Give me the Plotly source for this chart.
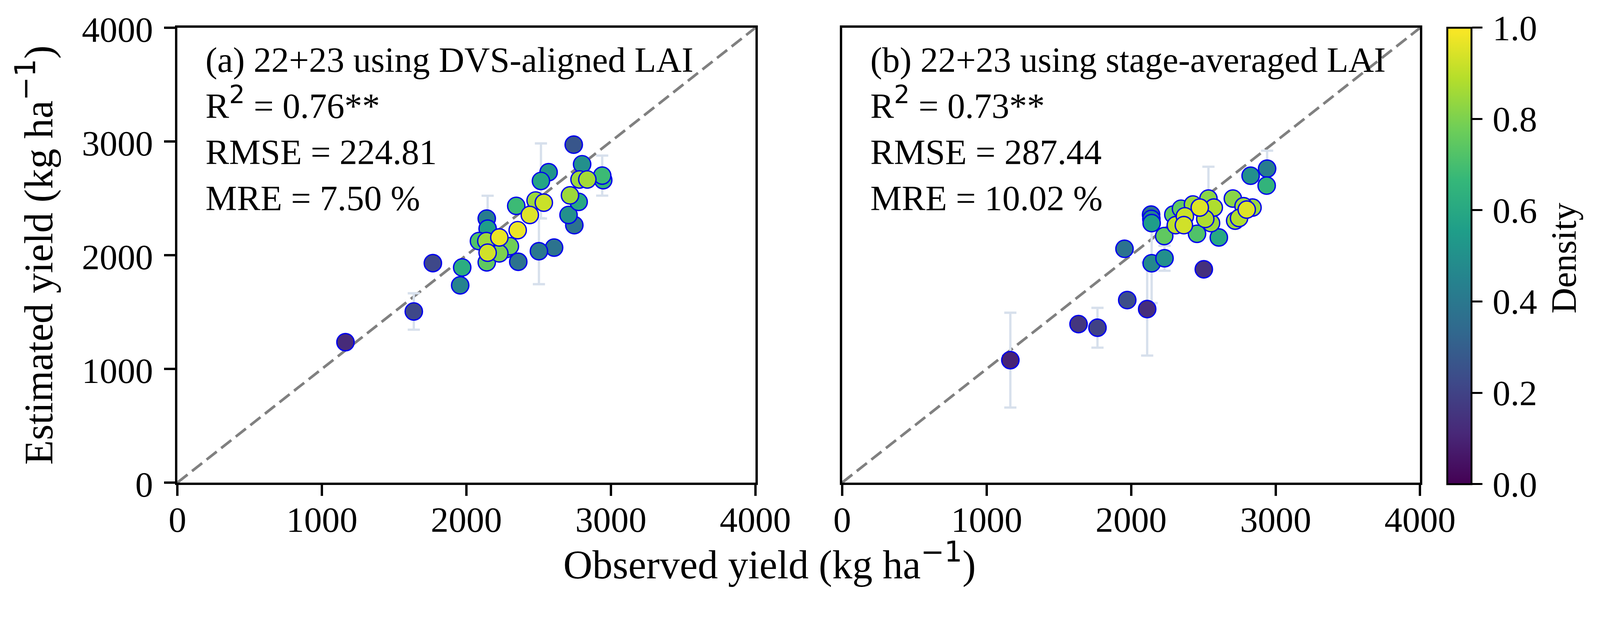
import plotly.graph_objects as go

# ---------------- data ----------------
# (a) 22+23 using DVS-aligned LAI
obs_a = [1163, 1636, 1768, 1971, 1957, 2141, 2147, 2087, 2138, 2147, 2141, 2228, 2228, 2301,
         2275, 2359, 2355, 2345, 2439, 2479, 2536, 2516, 2569, 2502, 2607, 2743, 2801, 2783,
         2837, 2940, 2947, 2717, 2777, 2707, 2747]
est_a = [1235, 1505, 1930, 1892, 1735, 2322, 2233, 2124, 2124, 2022, 1937, 2156, 2016, 2079,
         2054, 1942, 2220, 2434, 2354, 2481, 2462, 2653, 2730, 2035, 2067, 2972, 2800, 2666,
         2666, 2700, 2660, 2526, 2469, 2354, 2264]
den_a = [0.12, 0.22, 0.22, 0.62, 0.45, 0.42, 0.55, 0.72, 0.85, 0.93, 0.75, 0.97, 0.80, 0.78,
         0.76, 0.38, 0.97, 0.68, 0.95, 0.85, 0.92, 0.58, 0.52, 0.40, 0.38, 0.27, 0.50, 0.85,
         0.86, 0.68, 0.65, 0.85, 0.60, 0.50, 0.38]
err_a = [0, 160, 0, 0, 0, 0, 290, 0, 0, 0, 0, 0, 0, 0,
         0, 0, 0, 0, 0, 0, 0, 330, 0, 290, 0, 0, 0, 0,
         0, 176, 0, 0, 0, 0, 0]

# (b) 22+23 using stage-averaged LAI
obs_b = [1164, 1636, 1767, 1973, 2111, 1954, 2142, 2231, 2503, 2138, 2140, 2142, 2229, 2292,
         2309, 2365, 2372, 2345, 2428, 2475, 2535, 2572, 2513, 2553, 2456, 2607, 2704, 2720,
         2747, 2800, 2840, 2778, 2827, 2941, 2938]
est_b = [1077, 1394, 1362, 1605, 1526, 2056, 1929, 1973, 1876, 2357, 2319, 2282, 2168, 2357,
         2264, 2264, 2342, 2409, 2446, 2419, 2498, 2419, 2319, 2282, 2188, 2156, 2498, 2304,
         2327, 2401, 2419, 2431, 2699, 2761, 2612]
den_b = [0.10, 0.16, 0.20, 0.24, 0.13, 0.38, 0.47, 0.50, 0.14, 0.38, 0.45, 0.55, 0.75, 0.75,
         0.90, 0.93, 0.92, 0.75, 0.85, 0.95, 0.82, 0.88, 0.88, 0.85, 0.72, 0.60, 0.82, 0.85,
         0.88, 0.95, 0.85, 0.85, 0.50, 0.42, 0.65]
err_b = [417, 0, 175, 0, 409, 0, 350, 110, 0, 0, 0, 0, 0, 0,
         0, 0, 0, 0, 0, 0, 280, 0, 0, 0, 0, 0, 0, 0,
         0, 0, 0, 0, 0, 158, 0]

# ---------------- sizes / geometry ----------------
# target positions are photo pixels; the page shows the figure slightly
# enlarged (K) and offset by the body margin (M), so convert to css px.
K = 1.026
M = 8
W, H = 4060, 1520
FONT = "Liberation Serif"


def s(v):
    return v / K


def cx(p):
    return (p / K - M) / W


def cy(p):
    return 1 - (p / K - M) / H


TICK_SIZE = s(93.5)
ANN_SIZE = s(93)
TITLE_SIZE = s(106)
LW = s(6)

sup_ann = "<sup><span style=\"font-family:DejaVu Sans;font-size:%.1fpx\">2</span></sup>" % (0.7 * ANN_SIZE)
sup_title = "<sup><span style=\"font-family:DejaVu Sans;font-size:%.1fpx\">−1</span></sup>" % (0.7 * TITLE_SIZE)

panel_text = [
    "(a) 22+23 using DVS-aligned LAI<br>R" + sup_ann + " = 0.76**<br>RMSE = 224.81<br>MRE = 7.50 %",
    "(b) 22+23 using stage-averaged LAI<br>R" + sup_ann + " = 0.73**<br>RMSE = 287.44<br>MRE = 10.02 %",
]
axis_ticks = [0, 1000, 2000, 3000, 4000]
cbar_ticks = [0.0, 0.2, 0.4, 0.6, 0.8, 1.0]
x_title = "Observed yield (kg ha" + sup_title + ")"
y_title = "Estimated yield (kg ha" + sup_title + ")"
cbar_title = "Density"

dom_y = [cy(1270 - 3), cy(70 + 3)]
dom_xa = [cx(463 + 3), cx(1987 - 3)]
dom_xb = [cx(2209 + 3), cx(3733 - 3)]

fig = go.Figure()

panels = [
    (obs_a, est_a, den_a, err_a, "x", "y", True),
    (obs_b, est_b, den_b, err_b, "x2", "y2", False),
]

for obs, est, den, err, xa, ya, show_cb in panels:
    # 1:1 line
    fig.add_trace(go.Scatter(x=[0, 4000], y=[0, 4000], mode="lines",
                             line=dict(color="#808080", width=s(7), dash="33px,14.5px"),
                             xaxis=xa, yaxis=ya, showlegend=False, hoverinfo="skip"))
    # error bars (only where a spread exists)
    ex = [o for o, e in zip(obs, err) if e > 0]
    ey = [v for v, e in zip(est, err) if e > 0]
    ev = [e for e in err if e > 0]
    fig.add_trace(go.Scatter(x=ex, y=ey, mode="markers",
                             marker=dict(size=1, color="rgba(0,0,0,0)"),
                             error_y=dict(type="data", array=ev, visible=True,
                                          color="#d7e0ec", thickness=s(6), width=s(16)),
                             xaxis=xa, yaxis=ya, showlegend=False, hoverinfo="skip"))
    # density-coloured points, densest drawn last
    order = sorted(range(len(den)), key=lambda i: den[i])
    marker = dict(size=s(45.5), color=[den[i] for i in order], colorscale="Viridis",
                  cmin=0, cmax=1, line=dict(color="#0000ee", width=s(3.5)),
                  showscale=show_cb)
    if show_cb:
        marker["colorbar"] = dict(
            x=cx(3801), xanchor="left", xpad=0,
            y=cy(1271), yanchor="bottom", ypad=0,
            len=s(1198) / H, lenmode="fraction",
            thickness=s(64), outlinewidth=s(5), outlinecolor="black",
            ticks="outside", ticklen=s(27), tickwidth=s(5), tickcolor="black",
            tickvals=cbar_ticks, ticktext=["\u200a" + f"{v:.1f}" for v in cbar_ticks],
            tickfont=dict(family=FONT, size=TICK_SIZE, color="black"),
        )
    fig.add_trace(go.Scatter(x=[obs[i] for i in order], y=[est[i] for i in order],
                             mode="markers", marker=marker,
                             xaxis=xa, yaxis=ya, showlegend=False))

axis_common = dict(range=[0, 4000], tickvals=axis_ticks, ticktext=[str(t) for t in axis_ticks],
                   ticks="outside", ticklen=s(29), tickwidth=LW, tickcolor="black",
                   showline=True, linewidth=LW, linecolor="black", mirror=True,
                   showgrid=False, zeroline=False,
                   tickfont=dict(family=FONT, size=TICK_SIZE, color="black"))

fig.update_layout(
    width=W, height=H,
    margin=dict(l=0, r=0, t=0, b=0, autoexpand=False),
    paper_bgcolor="white", plot_bgcolor="white",
    font=dict(family=FONT, color="black"),
    xaxis=dict(domain=dom_xa, anchor="y", ticklabelstandoff=-17, **axis_common),
    yaxis=dict(domain=dom_y, anchor="x", ticklabelstandoff=10, ticklabelshift=4, **axis_common),
    xaxis2=dict(domain=dom_xb, anchor="y2", ticklabelstandoff=-17, **axis_common),
    yaxis2=dict(domain=dom_y, anchor="x2", **{**axis_common, "showticklabels": False, "ticks": ""}),
)

# panel annotations (first baseline at photo y=192, text ~80 px right of the frame)
ann_top = (188 / K - M) - 0.891 * ANN_SIZE - 1
for txt, left in [(panel_text[0], 463 + 80), (panel_text[1], 2209 + 80)]:
    fig.add_annotation(text=txt, xref="paper", yref="paper",
                       x=((left / K - M) - 5) / W, y=1 - ann_top / H,
                       xanchor="left", yanchor="top", align="left", showarrow=False,
                       font=dict(family=FONT, size=ANN_SIZE, color="black"))

# axis titles and colour-bar title
fig.add_annotation(text=x_title, xref="paper", yref="paper",
                   x=cx(2021), y=1 - ((1519 / K - M) - 0.427 * TITLE_SIZE) / H,
                   xanchor="center", yanchor="middle", showarrow=False,
                   font=dict(family=FONT, size=TITLE_SIZE, color="black"))
fig.add_annotation(text=y_title, xref="paper", yref="paper",
                   x=((137 / K - M) - 0.427 * TITLE_SIZE) / W, y=cy(670),
                   xanchor="center", yanchor="middle", textangle=-90, showarrow=False,
                   font=dict(family=FONT, size=TITLE_SIZE, color="black"))
fig.add_annotation(text=cbar_title, xref="paper", yref="paper",
                   x=((4139 / K - M) - 0.3375 * TICK_SIZE) / W, y=cy(677),
                   xanchor="center", yanchor="middle", textangle=-90, showarrow=False,
                   font=dict(family=FONT, size=TICK_SIZE, color="black"))

fig.write_html("out.html")
